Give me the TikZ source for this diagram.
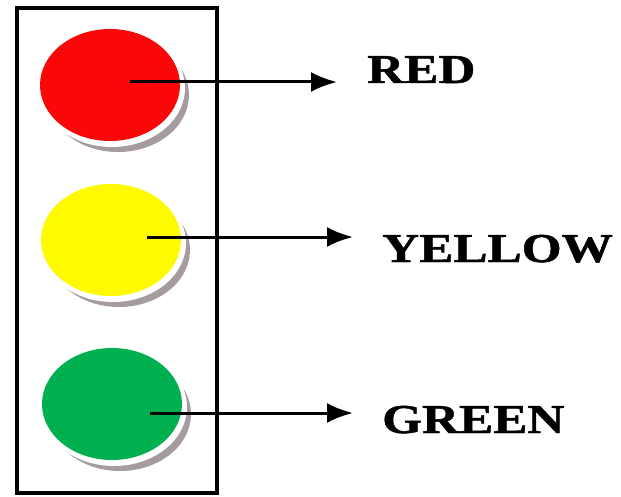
\documentclass[tikz,border=0pt]{standalone}
\usepackage{fontspec}
\setmainfont{Liberation Serif}
\newfontfamily\lblfont[FakeStretch=1.25,FakeBold=1.2]{Liberation Serif}
\usetikzlibrary{shapes.geometric,arrows.meta,positioning,calc}
\definecolor{lampred}{RGB}{250,8,8}
\definecolor{lampyellow}{RGB}{255,250,0}
\definecolor{lampgreen}{RGB}{0,175,80}
\definecolor{rimgray}{RGB}{165,155,160}

\tikzset{
  lamp/.style={ellipse, minimum width=140pt, minimum height=112pt, inner sep=0pt, fill=#1},
  shade/.style={ellipse, minimum width=142pt, minimum height=114pt, inner sep=0pt, fill=rimgray},
  halo/.style={ellipse, minimum width=146pt, minimum height=118pt, inner sep=0pt, fill=white},
  lbl/.style={anchor=base west, inner sep=0pt, font=\lblfont\bfseries\fontsize{41}{41}\selectfont},
  pointer/.style={-{Latex[length=26pt,width=20pt]}, line width=3pt, shorten >=29pt}
}

\begin{document}
\begin{tikzpicture}[x=1pt,y=-1pt]
  \useasboundingbox (0,0) rectangle (621,497);

  % lamps
  \node[shade] (redshd) at (118,95) {};
  \node[halo] (redhalo) at (112,88) {};
  \node[lamp=lampred] (red) at (110,85) {};

  \node[shade] (yelshd) at (119,250) {};
  \node[halo] (yelhalo) at (113,243) {};
  \node[lamp=lampyellow] (yellow) at (111,240) {};

  \node[shade] (grnshd) at (120,414) {};
  \node[halo] (grnhalo) at (114,407) {};
  \node[lamp=lampgreen] (green) at (112,404) {};

  % housing
  \node[draw, line width=3.2pt, minimum width=200pt, minimum height=485pt, inner sep=0pt] (box) at (117,250.5) {};

  % labels
  \node[lbl] (redlbl) at (367,83) {RED};
  \node[lbl] (yellbl) at (382,262) {YELLOW};
  \node[lbl] (grnlbl) at (382,433) {GREEN};

  \coordinate (redsrc) at (130,82);
  \coordinate (yelsrc) at (147,237);
  \coordinate (grnsrc) at (150,413);

  \draw[pointer, shorten >=30pt] (redsrc) -- (redsrc -| redlbl.west);
  \draw[pointer] (yelsrc) -- (yelsrc -| yellbl.west);
  \draw[pointer] (grnsrc) -- (grnsrc -| grnlbl.west);
\end{tikzpicture}
\end{document}
